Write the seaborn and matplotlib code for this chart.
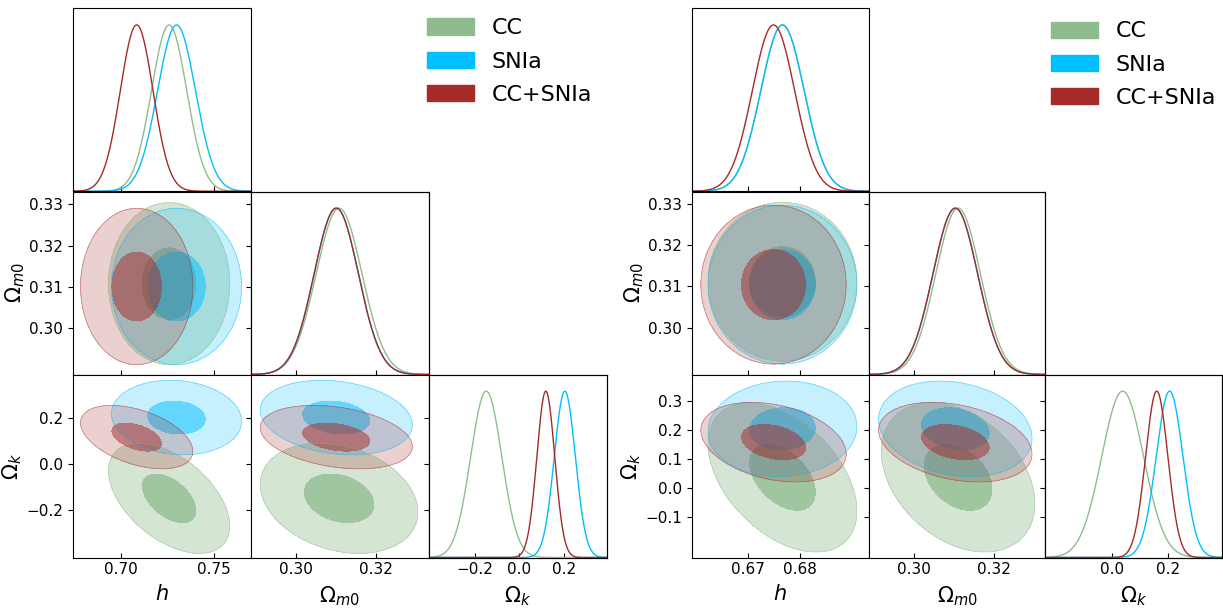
import numpy as np
import pandas as pd
import matplotlib
matplotlib.use("Agg")
import matplotlib.pyplot as plt
import seaborn as sns
from matplotlib.patches import Patch

sns.set_style("ticks")
plt.rcParams["font.family"] = ["DejaVu Sans"]
plt.rcParams["mathtext.fontset"] = "dejavusans"
for key in ["text.color", "axes.labelcolor", "xtick.color", "ytick.color"]:
    plt.rcParams[key] = "black"

# ---------------- data ----------------
datasets = ["CC", "SNIa", "CC+SNIa"]
colors = ["#8fbc8f", "#00bfff", "#a52a2a"]
param_labels = [r"$h$", r"$\Omega_{m0}$", r"$\Omega_k$"]

# left corner plot (means / sigmas per dataset: CC, SNIa, CC+SNIa)
L_mean_h = [0.726, 0.730, 0.7085]
L_sig_h = [0.0095, 0.0102, 0.0088]
L_mean_m = [0.3108, 0.3101, 0.3101]
L_sig_m = [0.0057, 0.0055, 0.0055]
L_mean_k = [-0.148, 0.203, 0.118]
L_sig_k = [0.0695, 0.047, 0.040]
L_rho_hm = [0.0, 0.0, 0.0]
L_rho_hk = [-0.5, -0.1, -0.45]
L_rho_mk = [-0.25, -0.2, -0.3]
L_lims = [(0.674, 0.770), (0.2888, 0.3331), (-0.405, 0.39)]
L_xticks = [[0.70, 0.75], [0.30, 0.32], [-0.2, 0.0, 0.2]]
L_yticks = [None, [0.30, 0.31, 0.32, 0.33], [-0.2, 0.0, 0.2]]

# right corner plot
R_mean_h = [0.6766, 0.6766, 0.6749]
R_sig_h = [0.0041, 0.0041, 0.0040]
R_mean_m = [0.3111, 0.3104, 0.3104]
R_sig_m = [0.0056, 0.0056, 0.0056]
R_mean_k = [0.037, 0.205, 0.159]
R_sig_k = [0.075, 0.048, 0.040]
R_rho_hm = [0.0, 0.0, 0.0]
R_rho_hk = [-0.45, 0.05, -0.3]
R_rho_mk = [-0.35, -0.2, -0.3]
R_lims = [(0.6594, 0.6929), (0.2886, 0.3330), (-0.240, 0.393)]
R_xticks = [[0.67, 0.68], [0.30, 0.32], [0.0, 0.2]]
R_yticks = [None, [0.30, 0.31, 0.32, 0.33], [-0.1, 0.0, 0.1, 0.2, 0.3]]

CHI2_LEVELS = [2.30, 11.83]  # inner / outer 2D regions

# fill opacities (style)
OUTER_ALPHA = [0.38, 0.22, 0.22]
INNER_ALPHA = [0.75, 0.5, 0.5]

# ---------------- layout ----------------
W, H = 1223, 608
fig = plt.figure(figsize=(W / 100, H / 100), dpi=100)
ROW_TOP = [8.3, 191.5, 374.5]
ROW_H = 183.0


def rect(x0, y0, w, h):
    return [x0 / W, 1 - (y0 + h) / H, w / W, h / H]


def style_axis(ax, row, col, xt, yt):
    ax.set_xticks(xt)
    ax.tick_params(axis="x", direction="in", bottom=True, top=False,
                   labelbottom=(row == 2), labelsize=11, length=3.5, width=0.8)
    if yt is not None:
        ax.set_yticks(yt)
        ax.tick_params(axis="y", direction="out", left=True, right=False,
                       labelleft=(col == 0), labelsize=11, length=3.5, width=0.8)
    else:
        ax.set_yticks([])
    for s in ax.spines.values():
        s.set_color("black")
        s.set_linewidth(0.8)
    if row == 2:
        ax.set_xlabel(param_labels[col], fontsize=15, labelpad=5)
    if col == 0 and row > 0:
        ax.set_ylabel(param_labels[row], fontsize=15, labelpad=1.5)


def draw_corner(x_cols, col_w, means, sigs, rhos, lims, xticks, yticks):
    for row in range(3):
        for col in range(row + 1):
            ax = fig.add_axes(rect(x_cols[col], ROW_TOP[row], col_w, ROW_H))
            ax.set_xlim(*lims[col])
            if row == col:
                if row == 0:
                    tgt = ax
                else:
                    ax.set_ylim(*lims[row])
                    tgt = ax.twinx()
                grid = np.linspace(lims[col][0], lims[col][1], 600)
                frames = []
                for d, name in enumerate(datasets):
                    mu, sg = means[col][d], sigs[col][d]
                    frames.append(pd.DataFrame({
                        "x": grid,
                        "y": np.exp(-0.5 * ((grid - mu) / sg) ** 2),
                        "set": name}))
                df = pd.concat(frames, ignore_index=True)
                sns.lineplot(data=df, x="x", y="y", hue="set",
                             hue_order=datasets, palette=colors, ax=tgt,
                             legend=False, linewidth=1.0, estimator=None)
                tgt.set_ylim(0, 1.1)
                tgt.set_xlim(*lims[col])
                tgt.set_xlabel("")
                tgt.set_ylabel("")
                tgt.set_yticks([])
                for s in tgt.spines.values():
                    s.set_color("black")
                    s.set_linewidth(0.8)
            else:
                ax.set_ylim(*lims[row])
                gx = np.linspace(lims[col][0], lims[col][1], 300)
                gy = np.linspace(lims[row][0], lims[row][1], 300)
                X, Y = np.meshgrid(gx, gy)
                rho_list = rhos[(col, row)]
                for d in range(3):
                    dx = (X - means[col][d]) / sigs[col][d]
                    dy = (Y - means[row][d]) / sigs[row][d]
                    r = rho_list[d]
                    chi2 = (dx ** 2 - 2 * r * dx * dy + dy ** 2) / (1 - r ** 2)
                    c = colors[d]
                    ax.contourf(X, Y, chi2, levels=[-1, CHI2_LEVELS[1]],
                                colors=[c], alpha=OUTER_ALPHA[d])
                    ax.contourf(X, Y, chi2, levels=[-1, CHI2_LEVELS[0]],
                                colors=[c], alpha=INNER_ALPHA[d])
                    ax.contour(X, Y, chi2, levels=[CHI2_LEVELS[1]],
                               colors=[c], linewidths=0.6, alpha=0.45)
            style_axis(ax, row, col, xticks[col], yticks[row])


L_means = [L_mean_h, L_mean_m, L_mean_k]
L_sigs = [L_sig_h, L_sig_m, L_sig_k]
L_rhos = {(0, 1): L_rho_hm, (0, 2): L_rho_hk, (1, 2): L_rho_mk}
R_means = [R_mean_h, R_mean_m, R_mean_k]
R_sigs = [R_sig_h, R_sig_m, R_sig_k]
R_rhos = {(0, 1): R_rho_hm, (0, 2): R_rho_hk, (1, 2): R_rho_mk}

draw_corner([72.7, 250.7, 428.7], 178.0, L_means, L_sigs, L_rhos,
            L_lims, L_xticks, L_yticks)
draw_corner([691.7, 868.5, 1045.3], 176.8, R_means, R_sigs, R_rhos,
            R_lims, R_xticks, R_yticks)

handles = [Patch(facecolor=c, edgecolor=c) for c in colors]
for ax_x, ax_y in [(418.4, 9.4), (1042.6, 12.5)]:
    fig.legend(handles, datasets, loc="upper left",
               bbox_to_anchor=(ax_x / W, 1 - ax_y / H), frameon=False,
               fontsize=16, borderaxespad=0, labelspacing=0.6,
               handlelength=2.1, handleheight=0.75)

fig.savefig("out.png", dpi=100)
